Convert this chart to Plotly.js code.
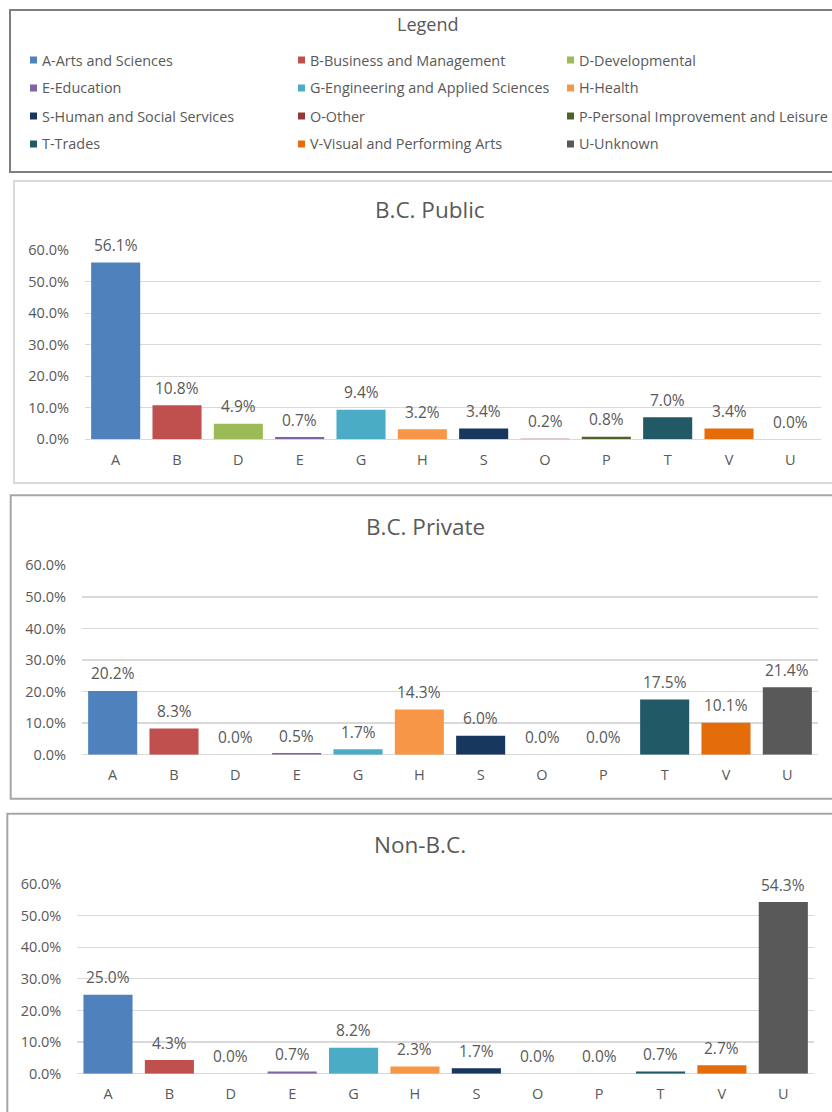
<!DOCTYPE html>
<html>
<head>
<meta charset="utf-8">
<script src="https://cdn.plot.ly/plotly-3.0.1.min.js"></script>
<style>
  html, body { margin: 0; padding: 0; background: #ffffff; }
  #chart { width: 832px; height: 1112px; }
</style>
</head>
<body>
<div id="chart"></div>
<script>
// ---------- data ----------
const categories = ['A', 'B', 'D', 'E', 'G', 'H', 'S', 'O', 'P', 'T', 'V', 'U'];
const legendLabels = [
  'A-Arts and Sciences', 'B-Business and Management', 'D-Developmental',
  'E-Education', 'G-Engineering and Applied Sciences', 'H-Health',
  'S-Human and Social Services', 'O-Other', 'P-Personal Improvement and Leisure',
  'T-Trades', 'V-Visual and Performing Arts', 'U-Unknown'
];
const colors = ['#4F81BD', '#C0504D', '#9BBB59', '#8064A2', '#4BACC6', '#F79646',
                '#17375E', '#953735', '#4F6228', '#215967', '#E46C0A', '#595959'];
const bcPublic  = [0.561, 0.108, 0.049, 0.007, 0.094, 0.032, 0.034, 0.002, 0.008, 0.070, 0.034, 0.000];
const bcPrivate = [0.202, 0.083, 0.000, 0.005, 0.017, 0.143, 0.060, 0.000, 0.000, 0.175, 0.101, 0.214];
const nonBC     = [0.250, 0.043, 0.000, 0.007, 0.082, 0.023, 0.017, 0.000, 0.000, 0.007, 0.027, 0.543];
const panelTitles = ['B.C. Public', 'B.C. Private', 'Non-B.C.'];
const legendTitle = 'Legend';
const yMax = 0.6;
const yStep = 0.1;

// ---------- layout helpers ----------
const W = 832, H = 1112;
const px = v => v / W;
const py = v => 1 - v / H;
const FONT = 'Open Sans, Liberation Sans, Arial, sans-serif';
const GREY = '#595959';

const panels = [
  { values: bcPublic,  x0: 85,   x1: 821, yTop: 250.3, yBot: 439.3,
    border: { x: 14,  top: 181,   bottom: 483,   color: '#d9d9d9' }, title: { x: 430, y: 211 } },
  { values: bcPrivate, x0: 82,   x1: 818, yTop: 565.3, yBot: 754.7,
    border: { x: 10.7, top: 495.3, bottom: 798.7, color: '#a6a6a6' }, title: { x: 426, y: 527.5 } },
  { values: nonBC,     x0: 77.3, x1: 814, yTop: 884,   yBot: 1073.7,
    border: { x: 7.3, top: 813.7, bottom: 1130,  color: '#a6a6a6' }, title: { x: 420, y: 845 } }
];

const data = [];
const layout = {
  width: W, height: H,
  margin: { l: 0, r: 0, t: 0, b: 0 },
  paper_bgcolor: '#ffffff',
  plot_bgcolor: 'rgba(0,0,0,0)',
  showlegend: false,
  font: { family: FONT, color: GREY },
  shapes: [],
  annotations: []
};

// legend box
layout.shapes.push({
  type: 'rect', xref: 'paper', yref: 'paper',
  x0: px(10), x1: px(845), y0: py(10), y1: py(172),
  line: { color: '#7f7f7f', width: 2 }, fillcolor: 'rgba(0,0,0,0)'
});
layout.annotations.push({
  xref: 'paper', yref: 'paper', x: px(427), y: py(24), xanchor: 'center', yanchor: 'middle',
  text: legendTitle, showarrow: false, font: { family: FONT, size: 18, color: GREY }
});
const colMarker = [30, 298, 567];
const rowY = [60, 88, 116, 144];
legendLabels.forEach((lab, i) => {
  const r = Math.floor(i / 3), c = i % 3;
  const mx = colMarker[c], my = rowY[r];
  layout.shapes.push({
    type: 'rect', xref: 'paper', yref: 'paper',
    x0: px(mx), x1: px(mx + 7), y0: py(my - 3.5), y1: py(my + 3.5),
    line: { width: 0 }, fillcolor: colors[i]
  });
  layout.annotations.push({
    xref: 'paper', yref: 'paper', x: px(mx + 10), y: py(my), xanchor: 'left', yanchor: 'middle',
    text: lab, showarrow: false, font: { family: FONT, size: 14.4, color: GREY }
  });
});

panels.forEach((p, k) => {
  const n = k + 1;
  const xa = 'x' + (n === 1 ? '' : n);
  const ya = 'y' + (n === 1 ? '' : n);
  data.push({
    type: 'bar', x: categories, y: p.values, xaxis: xa, yaxis: ya,
    marker: { color: colors, line: { width: 0 } },
    hoverinfo: 'skip'
  });
  layout['xaxis' + (n === 1 ? '' : n)] = {
    domain: [px(p.x0), px(p.x1)], anchor: ya,
    type: 'category', range: [-0.5, categories.length - 0.5],
    showgrid: false, zeroline: false, showline: false, ticks: '',
    ticklabelstandoff: 10,
    tickfont: { family: FONT, size: 14.5, color: GREY },
    fixedrange: true
  };
  layout['yaxis' + (n === 1 ? '' : n)] = {
    domain: [py(p.yBot), py(p.yTop)], anchor: xa,
    range: [0, yMax], dtick: yStep, tick0: 0, tickformat: '.1%',
    showgrid: true, gridcolor: '#d9d9d9', gridwidth: 1.3,
    zeroline: true, zerolinecolor: '#d9d9d9', zerolinewidth: 1.3,
    showline: false, ticks: '', ticklabelstandoff: 15,
    tickfont: { family: FONT, size: 14.5, color: GREY },
    fixedrange: true
  };
  // data labels
  p.values.forEach((v, i) => {
    layout.annotations.push({
      xref: xa, yref: ya, x: categories[i], y: v, xanchor: 'center', yanchor: 'middle',
      yshift: 17.5, text: (v * 100).toFixed(1) + '%', showarrow: false,
      font: { family: FONT, size: 15.5, color: GREY }
    });
  });
  // panel title
  layout.annotations.push({
    xref: 'paper', yref: 'paper', x: px(p.title.x), y: py(p.title.y - 1), xanchor: 'center', yanchor: 'middle',
    text: panelTitles[k], showarrow: false, font: { family: FONT, size: 22.5, color: GREY }
  });
  // panel border
  layout.shapes.push({
    type: 'rect', xref: 'paper', yref: 'paper',
    x0: px(p.border.x), x1: px(845), y0: py(p.border.top), y1: py(p.border.bottom),
    line: { color: p.border.color, width: 2 }, fillcolor: 'rgba(0,0,0,0)', layer: 'below'
  });
});

Plotly.newPlot('chart', data, layout, { staticPlot: true, displayModeBar: false });
</script>
</body>
</html>
